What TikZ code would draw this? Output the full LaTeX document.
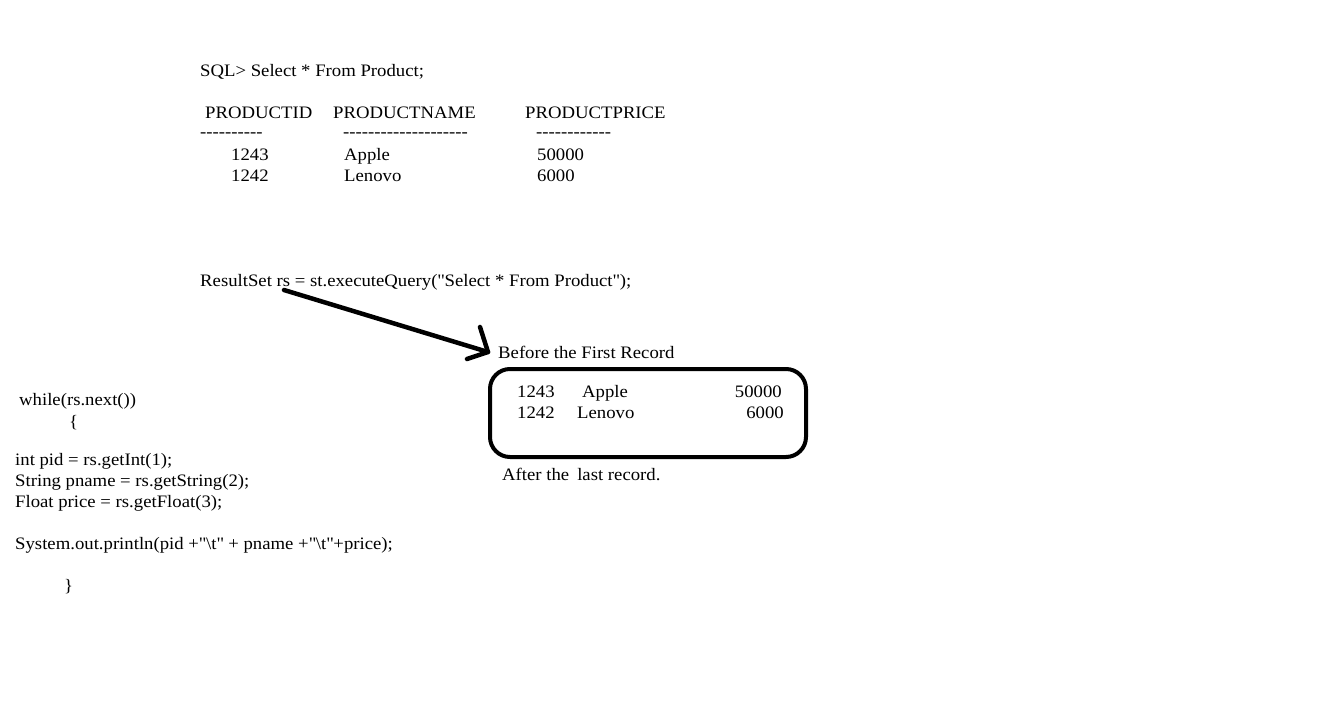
\documentclass[tikz,border=0pt]{standalone}
\usepackage{fontspec}
\setmainfont{Liberation Serif}[FakeStretch=1.07]
\begin{document}
\begin{tikzpicture}[x=1pt,y=-1pt,
  txt/.style={inner sep=0pt, anchor=base west, font=\fontsize{17.5}{21}\selectfont},
  txtr/.style={inner sep=0pt, anchor=base east, font=\fontsize{17.5}{21}\selectfont},
  thickline/.style={line width=4.5pt, line cap=round, line join=round}]
\useasboundingbox[fill=white] (0,0) rectangle (1341,712);
% SQL query and table
\node[txt] (sql) at (200,76) {SQL> Select * From Product;};
\node[txt] (h1) at (205,118) {PRODUCTID};
\node[txt] (h2) at (333,118) {PRODUCTNAME};
\node[txt] (h3) at (525,118) {PRODUCTPRICE};
\node[txt] (d1) at (200,137) {-{}-{}-{}-{}-{}-{}-{}-{}-{}-};
\node[txt] (d2) at (343,137) {-{}-{}-{}-{}-{}-{}-{}-{}-{}-{}-{}-{}-{}-{}-{}-{}-{}-{}-{}-};
\node[txt] (d3) at (536,137) {-{}-{}-{}-{}-{}-{}-{}-{}-{}-{}-{}-};
\node[txt] (r1a) at (231,160) {1243};
\node[txt] (r1b) at (344,160) {Apple};
\node[txt] (r1c) at (537,160) {50000};
\node[txt] (r2a) at (231,181) {1242};
\node[txt] (r2b) at (344,181) {Lenovo};
\node[txt] (r2c) at (537,181) {6000};
% ResultSet statement
\node[txt] (rs) at (200,286) {ResultSet rs = st.executeQuery(\textquotedbl Select * From Product\textquotedbl);};
\coordinate (rsstart) at (284,290);
\node[txt] (before) at (498,358) {Before the First Record};
\coordinate (tip) at (488,352);
\draw[thickline] (rsstart) -- (tip);
\draw[thickline] (tip) +(-8,-25) -- (tip) -- +(-21,7);
% result set box
\node[draw, rounded corners=20pt, line width=4pt, minimum width=316pt, minimum height=88pt, inner sep=0pt] (box) at (648,413) {};
\node[txt] (b1a) at (517,397) {1243};
\node[txt] (b1b) at (582,397) {Apple};
\node[txtr] (b1c) at (782,397) {50000};
\node[txt] (b2a) at (517,418) {1242};
\node[txt] (b2b) at (577,418) {Lenovo};
\node[txtr] (b2c) at (784,418) {6000};
\node[txt] (after) at (502,480) {After the\hspace{8pt}last record.};
% loop code
\node[txt] (w) at (19,405) {while(rs.next())};
\node[txt] (ob) at (69,427) {\{};
\node[txt] (c1) at (15,465) {int pid = rs.getInt(1);};
\node[txt] (c2) at (15,486) {String pname = rs.getString(2);};
\node[txt] (c3) at (15,507) {Float price = rs.getFloat(3);};
\node[txt] (c4) at (15,549) {System.out.println(pid +\textquotedbl\textbackslash t\textquotedbl{} + pname +\textquotedbl\textbackslash t\textquotedbl+price);};
\node[txt] (cb) at (64,591) {\}};
\end{tikzpicture}
\end{document}
